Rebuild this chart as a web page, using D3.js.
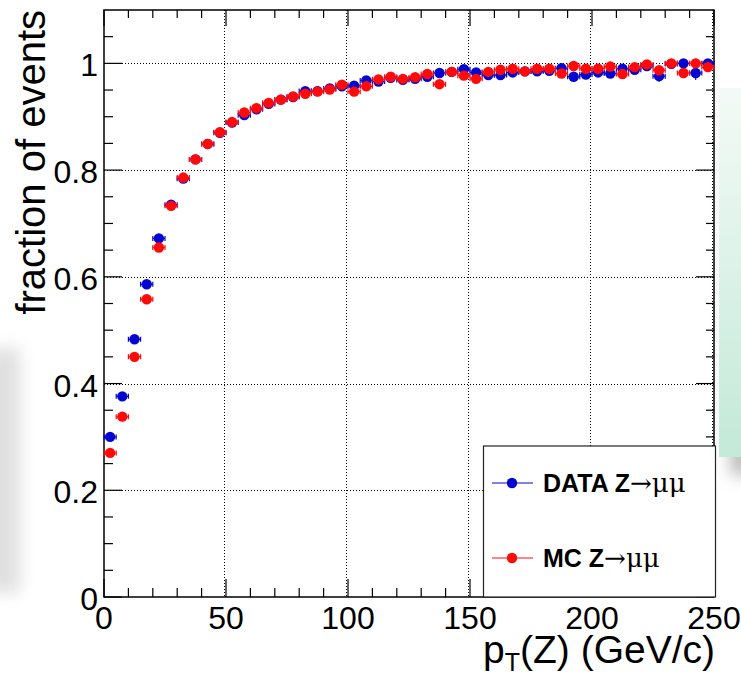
<!DOCTYPE html>
<html>
<head>
<meta charset="utf-8">
<script src="https://cdn.jsdelivr.net/npm/d3@7"></script>
<style>
  html, body { margin: 0; padding: 0; background: #ffffff; }
  svg { display: block; }
</style>
</head>
<body>
<svg id="chart" width="741" height="675"></svg>
<script>
// ---- data ----
const binCenters = [2.5, 7.5, 12.5, 17.5, 22.5, 27.5, 32.5, 37.5, 42.5, 47.5,
  52.5, 57.5, 62.5, 67.5, 72.5, 77.5, 82.5, 87.5, 92.5, 97.5,
  102.5, 107.5, 112.5, 117.5, 122.5, 127.5, 132.5, 137.5, 142.5, 147.5,
  152.5, 157.5, 162.5, 167.5, 172.5, 177.5, 182.5, 187.5, 192.5, 197.5,
  202.5, 207.5, 212.5, 217.5, 222.5, 227.5, 232.5, 237.5, 242.5, 247.5];
const binHalfWidth = 2.5;
const dataValues = [0.300, 0.376, 0.483, 0.586, 0.672, 0.735, 0.784, 0.820, 0.849, 0.870,
  0.889, 0.903, 0.914, 0.924, 0.932, 0.937, 0.948, 0.948, 0.953, 0.957,
  0.958, 0.968, 0.966, 0.973, 0.969, 0.971, 0.975, 0.982, 0.984, 0.989,
  0.983, 0.978, 0.978, 0.983, 0.985, 0.985, 0.986, 0.991, 0.975, 0.979,
  0.983, 0.981, 0.990, 0.988, 0.995, 0.976, 0.999, 1.000, 0.982, 1.000];
const dataErrors = [0.004, 0.004, 0.004, 0.004, 0.004, 0.004, 0.003, 0.003, 0.003, 0.003,
  0.003, 0.003, 0.003, 0.003, 0.003, 0.003, 0.003, 0.003, 0.003, 0.003,
  0.003, 0.003, 0.003, 0.003, 0.003, 0.003, 0.004, 0.004, 0.004, 0.004,
  0.004, 0.004, 0.004, 0.004, 0.005, 0.005, 0.005, 0.005, 0.006, 0.006,
  0.006, 0.006, 0.006, 0.007, 0.007, 0.011, 0.007, 0.007, 0.013, 0.008];
const mcValues = [0.270, 0.338, 0.450, 0.558, 0.655, 0.733, 0.786, 0.820, 0.849, 0.871,
  0.890, 0.908, 0.916, 0.926, 0.932, 0.938, 0.943, 0.947, 0.951, 0.960,
  0.947, 0.957, 0.970, 0.975, 0.971, 0.974, 0.980, 0.961, 0.984, 0.977,
  0.971, 0.984, 0.988, 0.990, 0.985, 0.990, 0.990, 0.981, 0.995, 0.990,
  0.990, 0.994, 0.980, 0.993, 0.998, 0.987, 1.000, 0.982, 1.000, 0.993];
const mcErrors = [0.003, 0.003, 0.003, 0.003, 0.003, 0.003, 0.003, 0.003, 0.003, 0.003,
  0.003, 0.003, 0.003, 0.003, 0.003, 0.003, 0.003, 0.003, 0.003, 0.003,
  0.003, 0.003, 0.003, 0.003, 0.003, 0.003, 0.003, 0.004, 0.004, 0.004,
  0.004, 0.004, 0.004, 0.004, 0.004, 0.004, 0.005, 0.005, 0.005, 0.005,
  0.005, 0.005, 0.005, 0.006, 0.006, 0.006, 0.006, 0.006, 0.006, 0.006];
const xTicks = [0, 50, 100, 150, 200, 250];
const xTickLabels = ["0", "50", "100", "150", "200", "250"];
const yTicks = [0, 0.2, 0.4, 0.6, 0.8, 1.0];
const yTickLabels = ["0", "0.2", "0.4", "0.6", "0.8", "1"];
const seriesNames = ["DATA Z", "MC Z"];
const seriesSuffix = "\u2192\u03bc\u03bc";
const seriesColors = ["#0505d2", "#ff0a0a"];

// ---- layout ----
const svg = d3.select("#chart");
const pLeft = 104, pRight = 714, pTop = 10, pBottom = 597;
const x = d3.scaleLinear().domain([0, 250]).range([pLeft, pRight]);
const y = d3.scaleLinear().domain([0, 1.1]).range([pBottom, pTop]);

// ---- background artifacts ----
const defs = svg.append("defs");
const blur = defs.append("filter").attr("id", "blur").attr("x", "-50%").attr("y", "-50%").attr("width", "200%").attr("height", "200%");
blur.append("feGaussianBlur").attr("stdDeviation", 8);
const teal = defs.append("linearGradient").attr("id", "teal").attr("x1", 0).attr("y1", 0).attr("x2", 0).attr("y2", 1);
teal.append("stop").attr("offset", "0%").attr("stop-color", "#f4faf7");
teal.append("stop").attr("offset", "100%").attr("stop-color", "#c3e9d8");
svg.append("rect").attr("x", -14).attr("y", 348).attr("width", 34).attr("height", 245)
  .attr("fill", "#e0e0e0").attr("filter", "url(#blur)");
const clip = defs.append("clipPath").attr("id", "shadowClip");
clip.append("rect").attr("x", 700).attr("y", 457).attr("width", 60).attr("height", 60);
svg.append("g").attr("clip-path", "url(#shadowClip)")
  .append("rect").attr("x", 730).attr("y", 430).attr("width", 30).attr("height", 45)
  .attr("fill", "#bdbdbd").attr("filter", "url(#blur)");
svg.append("rect").attr("x", 719).attr("y", 88).attr("width", 30).attr("height", 369).attr("fill", "url(#teal)");

// plot background
svg.append("rect").attr("x", pLeft).attr("y", pTop).attr("width", pRight - pLeft).attr("height", pBottom - pTop).attr("fill", "#fff");

// ---- grid ----
const grid = svg.append("g").attr("stroke", "#000").attr("stroke-width", 1).attr("stroke-dasharray", "1,2");
grid.selectAll("line.gx").data(xTicks.filter(t => t > 0)).join("line")
  .attr("x1", d => Math.round(x(d)) - 1.5).attr("x2", d => Math.round(x(d)) - 1.5)
  .attr("y1", pTop).attr("y2", pBottom);
grid.selectAll("line.gy").data(yTicks.filter(t => t > 0)).join("line")
  .attr("x1", pLeft).attr("x2", pRight)
  .attr("y1", d => Math.round(y(d)) + 0.5).attr("y2", d => Math.round(y(d)) + 0.5);

// ---- ticks ----
const xMinor = d3.range(0, 251, 10);
const yMinor = d3.range(0, 22).map(i => i * 0.05);
const tk = svg.append("g").attr("stroke", "#000").attr("stroke-width", 1.2);
xMinor.forEach(v => {
  const major = v % 50 === 0;
  const xx = x(v);
  tk.append("line").attr("x1", xx).attr("x2", xx).attr("y1", pBottom).attr("y2", pBottom - (major ? 18 : 9));
  tk.append("line").attr("x1", xx).attr("x2", xx).attr("y1", pTop).attr("y2", pTop + (major ? 16 : 8));
});
yMinor.forEach((v, i) => {
  const major = i % 4 === 0;
  const yy = y(v);
  tk.append("line").attr("x1", pLeft).attr("x2", pLeft + (major ? 18 : 9)).attr("y1", yy).attr("y2", yy);
  tk.append("line").attr("x1", pRight).attr("x2", pRight - (major ? 18 : 8)).attr("y1", yy).attr("y2", yy);
});

// frame
svg.append("rect").attr("x", pLeft).attr("y", pTop).attr("width", pRight - pLeft).attr("height", pBottom - pTop)
  .attr("fill", "none").attr("stroke", "#000").attr("stroke-width", 1.5);

// tick labels
const font = "'Liberation Sans', Arial, Helvetica, sans-serif";
svg.append("g").selectAll("text").data(xTicks).join("text")
  .attr("x", d => x(d)).attr("y", 629).attr("text-anchor", "middle")
  .attr("font-family", font).attr("font-size", 32).text((d, i) => xTickLabels[i]);
svg.append("g").selectAll("text").data(yTicks).join("text")
  .attr("x", 98).attr("y", d => y(d) + 13).attr("text-anchor", "end")
  .attr("font-family", font).attr("font-size", 32).text((d, i) => yTickLabels[i]);

// axis titles
svg.append("text").attr("transform", "translate(45,10) rotate(-90)")
  .attr("text-anchor", "end").attr("font-family", font).attr("font-size", 40).text("fraction of events");
const xt = svg.append("text").attr("x", 715).attr("y", 663).attr("text-anchor", "end")
  .attr("font-family", font).attr("font-size", 39);
xt.append("tspan").text("p");
xt.append("tspan").attr("font-size", 25).attr("dy", 8).text("T");
xt.append("tspan").attr("dy", -8).text("(Z) (GeV/c)");

// ---- series ----
function drawSeries(vals, errs, color) {
  const g = svg.append("g");
  binCenters.forEach((c, i) => {
    const cx = x(c), cy = y(vals[i]);
    const x0 = x(c - binHalfWidth), x1 = x(c + binHalfWidth);
    g.append("line").attr("x1", x0).attr("x2", x1).attr("y1", cy).attr("y2", cy).attr("stroke", color).attr("stroke-width", 1.2);
    g.append("line").attr("x1", x0).attr("x2", x0).attr("y1", cy - 2.5).attr("y2", cy + 2.5).attr("stroke", color).attr("stroke-width", 1.2);
    g.append("line").attr("x1", x1).attr("x2", x1).attr("y1", cy - 2.5).attr("y2", cy + 2.5).attr("stroke", color).attr("stroke-width", 1.2);
    g.append("line").attr("x1", cx).attr("x2", cx).attr("y1", y(vals[i] - errs[i])).attr("y2", y(vals[i] + errs[i])).attr("stroke", color).attr("stroke-width", 1.2);
    g.append("circle").attr("cx", cx).attr("cy", cy).attr("r", 5.2).attr("fill", color);
  });
}
drawSeries(dataValues, dataErrors, seriesColors[0]);
drawSeries(mcValues, mcErrors, seriesColors[1]);

// ---- legend ----
const lg = svg.append("g");
lg.append("rect").attr("x", 483.5).attr("y", 446).attr("width", 232).attr("height", 151)
  .attr("fill", "#fff").attr("stroke", "#222").attr("stroke-width", 1.2);
const legendY = [483, 558];
seriesNames.forEach((name, i) => {
  const ly = legendY[i];
  lg.append("line").attr("x1", 492).attr("x2", 533).attr("y1", ly).attr("y2", ly).attr("stroke", seriesColors[i]).attr("stroke-width", 1.2);
  lg.append("circle").attr("cx", 512).attr("cy", ly).attr("r", 5.2).attr("fill", seriesColors[i]);
  const t = lg.append("text").attr("x", 543).attr("y", ly + 9);
  t.append("tspan").attr("font-family", font).attr("font-weight", "bold").attr("font-size", 25).text(name);
  t.append("tspan").attr("font-family", "'DejaVu Serif', 'Liberation Serif', serif").attr("font-size", 26).text(seriesSuffix);
});
</script>
</body>
</html>
